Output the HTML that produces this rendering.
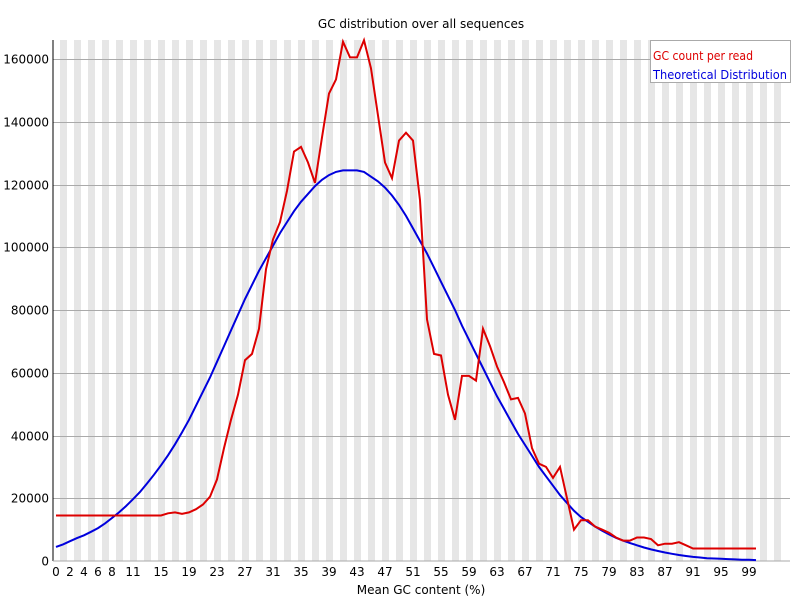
<!DOCTYPE html>
<html><head><meta charset="utf-8"><style>
body{margin:0;background:#fff}
svg{display:block;font-family:"DejaVu Sans","Liberation Sans",sans-serif}
</style></head><body>
<svg id="chart" width="800" height="600" xmlns="http://www.w3.org/2000/svg">
<rect width="800" height="600" fill="#fff"/>
<g id="stripes"></g>
<g id="grid"></g>
<g id="yticks" font-size="12" text-anchor="end"></g>
<g id="xticks" font-size="12" text-anchor="middle"></g>
<line x1="53" y1="40" x2="53" y2="561" stroke="#000"/>
<line x1="53" y1="561" x2="790" y2="561" stroke="#aaa"/>
<polyline id="blue" fill="none" stroke="#0000dd" stroke-width="2"/>
<polyline id="red" fill="none" stroke="#dd0000" stroke-width="2"/>
<text x="421" y="28" font-size="12" text-anchor="middle">GC distribution over all sequences</text>
<text x="421" y="594" font-size="12" text-anchor="middle">Mean GC content (%)</text>
<g>
<rect x="650.5" y="40.5" width="140" height="42" fill="#fff" stroke="#aaa"/>
<text x="653" y="60" font-size="12" fill="#dd0000" textLength="100" lengthAdjust="spacingAndGlyphs">GC count per read</text>
<text x="653" y="79" font-size="12" fill="#0000dd" textLength="134" lengthAdjust="spacingAndGlyphs">Theoretical Distribution</text>
</g>
</svg>
<script>
const yTicks=[0,20000,40000,60000,80000,100000,120000,140000,160000];
const xTickLabels=[0,2,4,6,8,11,15,19,23,27,31,35,39,43,47,51,55,59,63,67,71,75,79,83,87,91,95,99];
const redValues=[14500,14500,14500,14500,14500,14500,14500,14500,14500,14500,14500,14500,14500,14500,14500,14500,15200,15500,15000,15500,16500,18000,20500,26000,36000,45000,53000,64000,66000,74000,93000,102500,108000,118000,130500,132000,127000,120500,135000,149000,153500,165500,160500,160500,166000,157000,142000,127000,122000,134000,136500,134000,115000,77000,66000,65500,53000,45000,59000,59000,57500,74000,68500,62000,57000,51500,52000,47000,36000,31000,30000,26500,30000,20000,10000,13000,13000,11000,10000,9000,7500,6500,6500,7500,7500,7000,5000,5500,5500,6000,5000,4000,4000,4000,4000,4000,4000,4000,4000,4000,4000];
const blueValues=[4500,5300,6300,7300,8200,9300,10500,12000,13700,15500,17500,19700,22000,24700,27500,30500,33700,37200,41000,45000,49500,54000,58500,63500,68500,73500,78500,83500,88000,92500,96500,100500,104500,108000,111500,114500,117000,119500,121500,123000,124000,124500,124500,124500,124000,122500,121000,119000,116500,113500,110000,106000,102000,98000,93500,89000,84500,80000,75000,70500,66000,61500,57000,52500,48500,44500,40500,37000,33500,30000,27000,24000,21000,18500,16000,14000,12500,11000,9700,8500,7400,6500,5700,5000,4300,3700,3200,2700,2300,1900,1600,1300,1100,900,800,700,600,500,400,400,300];
const NS='http://www.w3.org/2000/svg';
function xs(i){return 56+7*i;}
function ys(v){return 561-v*502/160000;}
const st=document.getElementById('stripes');
for(let x=60;x<786;x+=14){
  const r=document.createElementNS(NS,'rect');
  r.setAttribute('x',x);r.setAttribute('y',40);r.setAttribute('width',7);r.setAttribute('height',521);r.setAttribute('fill','#e6e6e6');
  
  
  st.appendChild(r);
}
const g=document.getElementById('grid'),yt=document.getElementById('yticks');
yTicks.forEach(v=>{
  const y=Math.round(ys(v))+0.5;
  if(v>0){const l=document.createElementNS(NS,'line');
  l.setAttribute('x1',53);l.setAttribute('x2',790);l.setAttribute('y1',y);l.setAttribute('y2',y);l.setAttribute('stroke','#aaa');
  
  
  g.appendChild(l);}
  const t=document.createElementNS(NS,'text');
  t.setAttribute('x',49);t.setAttribute('y',y+4);t.textContent=v;
  
  
  yt.appendChild(t);
});
const xt=document.getElementById('xticks');
xTickLabels.forEach(v=>{
  const t=document.createElementNS(NS,'text');
  t.setAttribute('x',xs(v));t.setAttribute('y',576);t.textContent=v;
  
  
  xt.appendChild(t);
});
document.getElementById('red').setAttribute('points',redValues.map((v,i)=>xs(i)+','+ys(v).toFixed(1)).join(' '));
document.getElementById('blue').setAttribute('points',blueValues.map((v,i)=>xs(i)+','+ys(v).toFixed(1)).join(' '));
</script>
</body></html>
